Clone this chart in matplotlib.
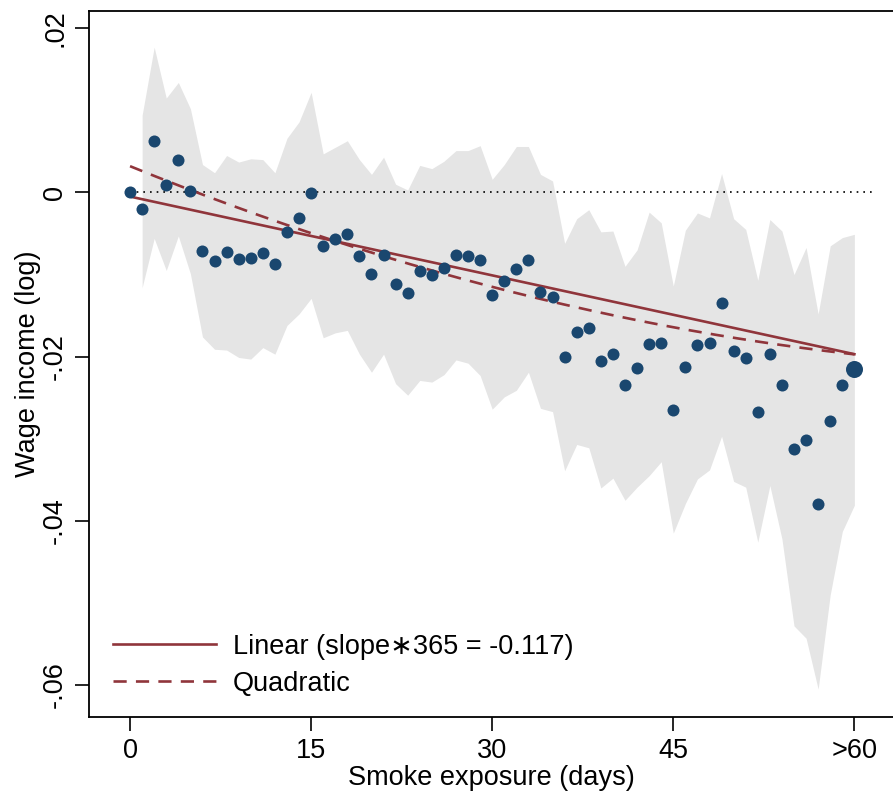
import numpy as np
import matplotlib.pyplot as plt

# days 0..60 (60 = ">60")
days = np.arange(0, 61)

coef = [0.0, -0.0020, 0.0063, 0.0009, 0.0040, 0.0002, -0.0071, -0.0083, -0.0073, -0.0081,
        -0.0080, -0.0074, -0.0087, -0.0048, -0.0031, -0.0001, -0.0065, -0.0057, -0.0051, -0.0078,
        -0.0099, -0.0076, -0.0111, -0.0123, -0.0096, -0.0101, -0.0092, -0.0076, -0.0078, -0.0082,
        -0.0125, -0.0108, -0.0093, -0.0082, -0.0121, -0.0127, -0.0201, -0.0170, -0.0165, -0.0205,
        -0.0197, -0.0235, -0.0214, -0.0184, -0.0183, -0.0265, -0.0213, -0.0186, -0.0183, -0.0135,
        -0.0193, -0.0202, -0.0267, -0.0197, -0.0235, -0.0313, -0.0302, -0.0379, -0.0278, -0.0234,
        -0.0215]

# confidence band, days 1..60
ci_hi = [0.0094, 0.0177, 0.0115, 0.0134, 0.0102, 0.0034, 0.0024, 0.0045, 0.0037, 0.0041,
         0.0040, 0.0024, 0.0066, 0.0086, 0.0122, 0.0047, 0.0055, 0.0063, 0.0040, 0.0022,
         0.0043, 0.0010, 0.0003, 0.0033, 0.0029, 0.0038, 0.0051, 0.0051, 0.0057, 0.0016,
         0.0034, 0.0056, 0.0056, 0.0022, 0.0014, -0.0062, -0.0032, -0.0021, -0.0048, -0.0047,
         -0.0090, -0.0070, -0.0024, -0.0037, -0.0114, -0.0046, -0.0025, -0.0031, 0.0023, -0.0032,
         -0.0045, -0.0107, -0.0033, -0.0047, -0.0100, -0.0067, -0.0148, -0.0065, -0.0055, -0.0051]
ci_lo = [-0.0116, -0.0056, -0.0095, -0.0053, -0.0099, -0.0176, -0.0191, -0.0192, -0.0201, -0.0203,
         -0.0189, -0.0197, -0.0162, -0.0148, -0.0129, -0.0177, -0.0171, -0.0168, -0.0197, -0.0219,
         -0.0197, -0.0233, -0.0247, -0.0229, -0.0231, -0.0222, -0.0204, -0.0208, -0.0223, -0.0264,
         -0.0249, -0.0241, -0.0219, -0.0263, -0.0267, -0.0339, -0.0307, -0.0311, -0.0360, -0.0348,
         -0.0375, -0.0359, -0.0345, -0.0328, -0.0415, -0.0379, -0.0349, -0.0338, -0.0297, -0.0352,
         -0.0359, -0.0426, -0.0357, -0.0422, -0.0528, -0.0543, -0.0605, -0.0490, -0.0413, -0.0381]

# fitted lines
lin_coef = [-0.00032, -0.0005]            # slope*365 = -0.117
quad_coef = [3.6e-6, -0.000598, 0.0032]

xticks = [0, 15, 30, 45, 60]
xticklabels = ['0', '15', '30', '45', '>60']
yticks = [0.02, 0.0, -0.02, -0.04, -0.06]
yticklabels = ['.02', '0', '-.02', '-.04', '-.06']

navy = '#1a476f'
maroon = '#90353b'
fs = 19.5

plt.rcParams['font.family'] = ['Liberation Sans', 'DejaVu Sans']

fig = plt.figure(figsize=(8.93, 7.93), dpi=100)
ax = fig.add_axes([89 / 893, 1 - 716.7 / 793, 1 - 89 / 893, (716.7 - 10.7) / 793])

ax.fill_between(days[1:], ci_lo, ci_hi, color='#e5e5e5', linewidth=0, zorder=1)
ax.plot([0, 61.6], [0, 0], color='black', linestyle=(0, (1, 3)), linewidth=1.2, zorder=2)

xfit = np.linspace(0, 60, 200)
ax.plot(xfit, np.polyval(lin_coef, xfit), color=maroon, linewidth=1.9, zorder=3,
        label='Linear (slope\u2217365 = -0.117)')
ax.plot(xfit, np.polyval(quad_coef, xfit), color=maroon, linewidth=1.9, zorder=3,
        linestyle=(0, (5, 3.5)), label='Quadratic')

ax.scatter(days[:-1], coef[:-1], s=75, color=navy, linewidths=0, zorder=4)
ax.scatter(days[-1:], coef[-1:], s=150, color=navy, linewidths=0, zorder=4)

ax.set_xlim(-3.4, 63.2)
ax.set_ylim(-0.06386, 0.02214)
ax.set_xticks(xticks)
ax.set_xticklabels(xticklabels, fontsize=fs)
ax.set_yticks(yticks)
ax.set_yticklabels(yticklabels, fontsize=fs, rotation=90, va='center')
ax.tick_params(direction='out', length=10, width=1.2, pad=5)

ax.spines['right'].set_visible(False)
for s in ['left', 'top', 'bottom']:
    ax.spines[s].set_linewidth(1.3)

ax.set_xlabel('Smoke exposure (days)', fontsize=fs, labelpad=1)
ax.set_ylabel('Wage income (log)', fontsize=fs, labelpad=1)

ax.legend(loc='lower left', bbox_to_anchor=(0.0, -0.006), frameon=False, fontsize=fs,
          handlelength=3.8, handletextpad=0.6, labelspacing=0.4)

fig.savefig('out.png', dpi=100)
